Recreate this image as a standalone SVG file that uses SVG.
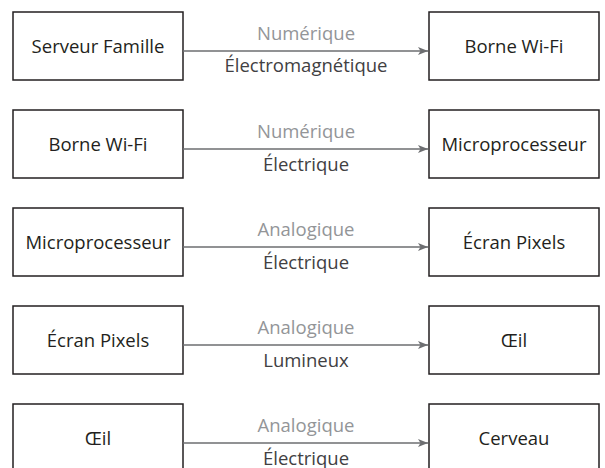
<svg xmlns="http://www.w3.org/2000/svg" width="605" height="468" viewBox="0 0 605 468">
  <style>
    .box { fill: #ffffff; stroke: #231f20; stroke-width: 1.5; }
    .node-text { font-family: "Open Sans", "Liberation Sans", sans-serif; font-size: 18.5px; fill: #231f20; text-anchor: middle; }
    .kind { font-family: "Open Sans", "Liberation Sans", sans-serif; font-size: 18.5px; fill: #939598; text-anchor: middle; }
    .medium { font-family: "Open Sans", "Liberation Sans", sans-serif; font-size: 18.5px; fill: #414042; text-anchor: middle; }
    .link { stroke: #6d6e71; stroke-width: 1.5; fill: none; marker-end: url(#arrow); }
  </style>
  <defs>
    <marker id="arrow" viewBox="0 0 10 8" refX="10" refY="4" markerWidth="10" markerHeight="8" markerUnits="userSpaceOnUse" orient="auto">
      <path d="M0,0 L10,4 L0,8 L2.5,4 Z" fill="#6d6e71"/>
    </marker>
  </defs>

  <!-- row 1 -->
  <g id="serveur-famille">
    <rect class="box" x="13" y="12" width="170" height="68"/>
    <text class="node-text" x="98" y="52.5">Serveur Famille</text>
  </g>
  <g id="borne-wifi-1">
    <rect class="box" x="429" y="12" width="170" height="68"/>
    <text class="node-text" x="514" y="52.5">Borne Wi-Fi</text>
  </g>

  <!-- row 2 -->
  <g id="borne-wifi-2">
    <rect class="box" x="13" y="110" width="170" height="68"/>
    <text class="node-text" x="98" y="150.5">Borne Wi-Fi</text>
  </g>
  <g id="microprocesseur-1">
    <rect class="box" x="429" y="110" width="170" height="68"/>
    <text class="node-text" x="514" y="150.5">Microprocesseur</text>
  </g>

  <!-- row 3 -->
  <g id="microprocesseur-2">
    <rect class="box" x="13" y="208" width="170" height="68"/>
    <text class="node-text" x="98" y="248.5">Microprocesseur</text>
  </g>
  <g id="ecran-pixels-1">
    <rect class="box" x="429" y="208" width="170" height="68"/>
    <text class="node-text" x="514" y="248.5">Écran Pixels</text>
  </g>

  <!-- row 4 -->
  <g id="ecran-pixels-2">
    <rect class="box" x="13" y="306" width="170" height="68"/>
    <text class="node-text" x="98" y="346.5">Écran Pixels</text>
  </g>
  <g id="oeil-1">
    <rect class="box" x="429" y="306" width="170" height="68"/>
    <text class="node-text" x="514" y="346.5">Œil</text>
  </g>

  <!-- row 5 -->
  <g id="oeil-2">
    <rect class="box" x="13" y="404" width="170" height="68"/>
    <text class="node-text" x="98" y="444.5">Œil</text>
  </g>
  <g id="cerveau">
    <rect class="box" x="429" y="404" width="170" height="68"/>
    <text class="node-text" x="514" y="444.5">Cerveau</text>
  </g>

  <!-- connectors with signal kind above and medium below -->
  <g id="connectors">
    <line class="link" x1="183" y1="51" x2="428" y2="51"/>
    <text class="kind" x="306" y="39.5">Numérique</text>
    <text class="medium" x="306" y="72">Électromagnétique</text>

    <line class="link" x1="183" y1="149" x2="428" y2="149"/>
    <text class="kind" x="306" y="137.5">Numérique</text>
    <text class="medium" x="306" y="170.5">Électrique</text>

    <line class="link" x1="183" y1="247" x2="428" y2="247"/>
    <text class="kind" x="306" y="235.5">Analogique</text>
    <text class="medium" x="306" y="268.5">Électrique</text>

    <line class="link" x1="183" y1="345" x2="428" y2="345"/>
    <text class="kind" x="306" y="333.5">Analogique</text>
    <text class="medium" x="306" y="366.5">Lumineux</text>

    <line class="link" x1="183" y1="443" x2="428" y2="443"/>
    <text class="kind" x="306" y="431.5">Analogique</text>
    <text class="medium" x="306" y="464.5">Électrique</text>
  </g>
</svg>
